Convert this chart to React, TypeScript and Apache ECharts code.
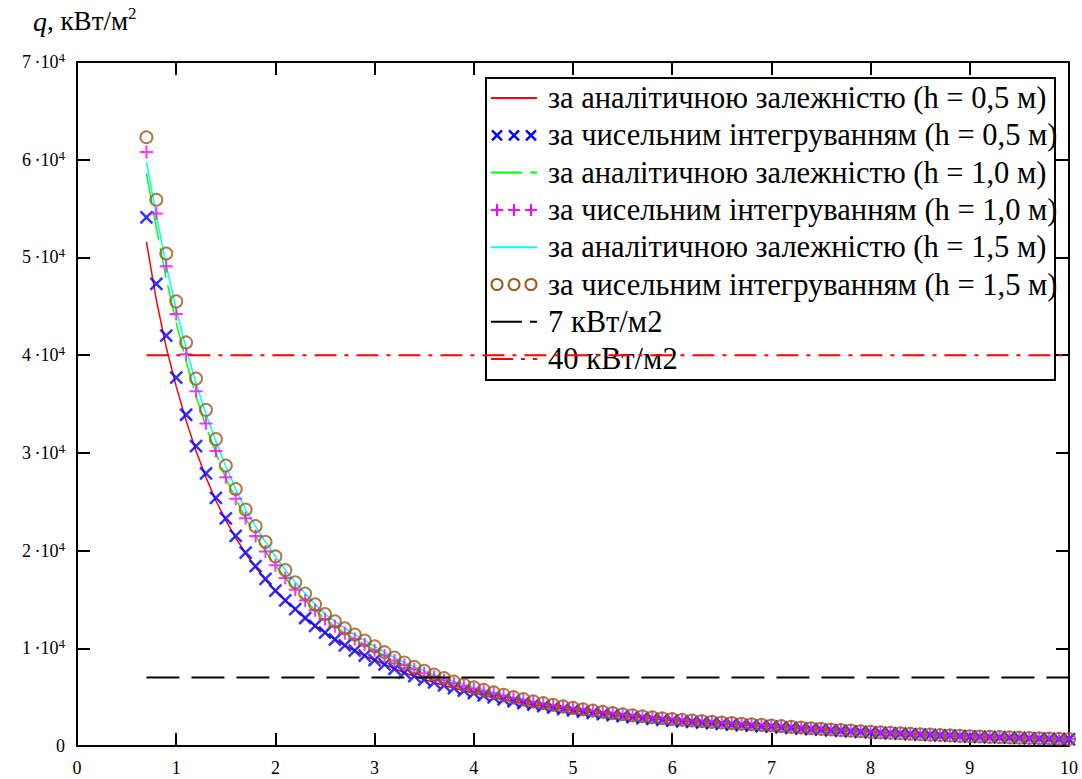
import React, { useEffect, useRef } from "react";
import * as echarts from "echarts";

// distance, m
const xs = [
  0.7, 0.8, 0.9, 1.0, 1.1, 1.2, 1.3, 1.4, 1.5, 1.6,
  1.7, 1.8, 1.9, 2.0, 2.1, 2.2, 2.3, 2.4, 2.5, 2.6,
  2.7, 2.8, 2.9, 3.0, 3.1, 3.2, 3.3, 3.4, 3.5, 3.6,
  3.7, 3.8, 3.9, 4.0, 4.1, 4.2, 4.3, 4.4, 4.5, 4.6,
  4.7, 4.8, 4.9, 5.0, 5.1, 5.2, 5.3, 5.4, 5.5, 5.6,
  5.7, 5.8, 5.9, 6.0, 6.1, 6.2, 6.3, 6.4, 6.5, 6.6,
  6.7, 6.8, 6.9, 7.0, 7.1, 7.2, 7.3, 7.4, 7.5, 7.6,
  7.7, 7.8, 7.9, 8.0, 8.1, 8.2, 8.3, 8.4, 8.5, 8.6,
  8.7, 8.8, 8.9, 9.0, 9.1, 9.2, 9.3, 9.4, 9.5, 9.6,
  9.7, 9.8, 9.9, 10.0,
];

// numerical integration, h = 0.5 m
const qNum05 = [
  54100, 47300, 42000, 37700, 33900, 30700, 27900, 25400, 23300, 21500,
  19800, 18400, 17100, 15900, 14900, 14000, 13100, 12300, 11600, 10900,
  10300, 9750, 9250, 8800, 8350, 7900, 7500, 7150, 6800, 6500,
  6200, 5920, 5660, 5420, 5190, 4970, 4770, 4580, 4400, 4230,
  4070, 3920, 3780, 3640, 3510, 3390, 3270, 3160, 3050, 2950,
  2860, 2770, 2680, 2600, 2530, 2460, 2390, 2330, 2260, 2200,
  2140, 2090, 2030, 1980, 1910, 1850, 1790, 1730, 1670, 1610,
  1560, 1500, 1450, 1400, 1350, 1300, 1260, 1210, 1170, 1130,
  1090, 1050, 1010, 970, 940, 910, 880, 850, 820, 790,
  765, 740, 715, 690,
];

// numerical integration, h = 1.0 m
const qNum10 = [
  60800, 54500, 49100, 44200, 40100, 36300, 33000, 30200, 27500, 25300,
  23300, 21500, 19900, 18500, 17200, 16000, 14900, 13900, 13000, 12250,
  11550, 10950, 10400, 9800, 9250, 8750, 8280, 7850, 7450, 7080,
  6740, 6420, 6130, 5850, 5600, 5370, 5130, 4910, 4710, 4500,
  4330, 4160, 4000, 3850, 3710, 3590, 3460, 3340, 3220, 3110,
  3010, 2910, 2820, 2730, 2660, 2590, 2520, 2450, 2380, 2320,
  2260, 2200, 2140, 2080, 2010, 1940, 1870, 1800, 1740, 1680,
  1620, 1560, 1500, 1440, 1390, 1340, 1290, 1240, 1190, 1150,
  1110, 1070, 1030, 990, 960, 930, 900, 870, 840, 810,
  785, 760, 735, 710,
];

// numerical integration, h = 1.5 m
const qNum15 = [
  62300, 55900, 50400, 45500, 41300, 37600, 34400, 31400, 28700, 26300,
  24200, 22500, 20900, 19400, 18000, 16750, 15600, 14500, 13500, 12750,
  12050, 11400, 10800, 10200, 9600, 9050, 8550, 8100, 7700, 7300,
  6950, 6600, 6300, 6000, 5750, 5500, 5250, 5000, 4800, 4580,
  4400, 4220, 4060, 3900, 3760, 3630, 3500, 3370, 3250, 3140,
  3040, 2940, 2840, 2750, 2680, 2610, 2540, 2470, 2400, 2340,
  2280, 2220, 2160, 2100, 2030, 1960, 1890, 1820, 1750, 1690,
  1630, 1570, 1510, 1450, 1400, 1350, 1300, 1250, 1200, 1160,
  1120, 1080, 1040, 1000, 970, 940, 910, 880, 850, 820,
  790, 770, 740, 720,
];

// analytical curves: first points differ, afterwards they coincide with the numerical ones
const qAn05Head = [51600, 45600, 40800, 36800, 33300, 30200, 27500, 25100, 23100, 21300, 19700, 18300, 17000, 15850];
const qAn10Head = [58600, 53000, 47800, 43300, 39400, 35800, 32700, 30000, 27400];
const qAn15Head = [59800, 54300, 49200, 44700, 40700, 37100, 34000, 31200, 28600];

const limitX = [0.7, 10];
const limit7 = 7000;
const limit40 = 40000;

const xTicks = { min: 0, max: 10, interval: 1 };
const yTicks = { min: 0, max: 70000, interval: 10000 };

const legendLabels = [
  "за аналітичною залежністю (h = 0,5 м)",
  "за чисельним інтегруванням (h = 0,5 м)",
  "за аналітичною залежністю (h = 1,0 м)",
  "за чисельним інтегруванням (h = 1,0 м)",
  "за аналітичною залежністю (h = 1,5 м)",
  "за чисельним інтегруванням (h = 1,5 м)",
  "7 кВт/м2",
  "40 кВт/м2",
];

const RED = "#ff0000";
const BLUE = "#0000ff";
const GREEN = "#00ff00";
const MAGENTA = "#ff00ff";
const CYAN = "#00ffff";
const BROWN = "#9a5a1e";
const SERIF = "'Liberation Serif', 'Times New Roman', 'DejaVu Serif', serif";

export default function App() {
  const ref = useRef<HTMLDivElement>(null);
  useEffect(() => {
    document.body.style.margin = "0";
    const chart = echarts.init(ref.current!, null, { renderer: "svg" });
    const pair = (ys: number[]) => xs.map((x, i) => [x, ys[i]]);
    const qAn05 = qAn05Head.concat(qNum05.slice(qAn05Head.length));
    const qAn10 = qAn10Head.concat(qNum10.slice(qAn10Head.length));
    const qAn15 = qAn15Head.concat(qNum15.slice(qAn15Head.length));

    const lineSeries = (name: string, ys: number[], color: string, type: any, width = 1.5) => ({
      name,
      type: "line",
      data: pair(ys),
      showSymbol: false,
      symbol: "none",
      lineStyle: { color, width, type },
      z: 2,
    });
    const markSeries = (name: string, ys: number[], symbol: string, color: string, bw: number, size: number) => ({
      name,
      type: "scatter",
      data: pair(ys),
      symbol,
      symbolSize: size,
      itemStyle: { color: "rgba(0,0,0,0)", borderColor: color, borderWidth: bw },
      z: 3,
    });

    // legend graphic
    const lx = 486, ly = 78, lw = 569, lh = 302;
    const rowY = (i: number) => 98 + i * 37.3;
    const children: any[] = [
      { type: "rect", shape: { x: lx, y: ly, width: lw, height: lh }, style: { fill: "none", stroke: "#000", lineWidth: 2 } },
    ];
    const sx0 = 491, sx1 = 537;
    const sampleLine = (i: number, color: string, dash: any) =>
      children.push({ type: "line", shape: { x1: sx0, y1: rowY(i), x2: sx1, y2: rowY(i) }, style: { stroke: color, lineWidth: 2, lineDash: dash } });
    sampleLine(0, RED, null);
    sampleLine(2, GREEN, [31, 8]);
    sampleLine(4, CYAN, null);
    sampleLine(6, "#000", [31, 8]);
    sampleLine(7, RED, [22, 8, 4, 8]);
    [497, 514, 531].forEach((cx) => {
      const c1 = rowY(1);
      children.push({ type: "line", shape: { x1: cx - 5, y1: c1 - 5, x2: cx + 5, y2: c1 + 5 }, style: { stroke: BLUE, lineWidth: 2.5 } });
      children.push({ type: "line", shape: { x1: cx + 5, y1: c1 - 5, x2: cx - 5, y2: c1 + 5 }, style: { stroke: BLUE, lineWidth: 2.5 } });
      const c3 = rowY(3);
      children.push({ type: "line", shape: { x1: cx - 6, y1: c3, x2: cx + 6, y2: c3 }, style: { stroke: MAGENTA, lineWidth: 2 } });
      children.push({ type: "line", shape: { x1: cx, y1: c3 - 6, x2: cx, y2: c3 + 6 }, style: { stroke: MAGENTA, lineWidth: 2 } });
      children.push({ type: "circle", shape: { cx, cy: rowY(5), r: 5.5 }, style: { fill: "none", stroke: BROWN, lineWidth: 2 } });
    });
    legendLabels.forEach((t, i) =>
      children.push({
        type: "text",
        style: { text: t, x: 548, y: rowY(i), fontFamily: SERIF, fontSize: 30.5, fill: "#000", verticalAlign: "middle", align: "left" },
      })
    );

    const option: any = {
      animation: false,
      backgroundColor: "#fff",
      grid: { left: 77, right: 13, top: 62, bottom: 33, show: false },
      xAxis: [
        {
          type: "value", ...xTicks, position: "bottom",
          axisLine: { show: true, lineStyle: { color: "#000", width: 2 } },
          axisTick: { show: true, inside: true, length: 13, lineStyle: { color: "#000", width: 2 } },
          axisLabel: { color: "#000", fontFamily: SERIF, fontSize: 18, margin: 13 },
          splitLine: { show: false },
        },
        {
          type: "value", ...xTicks, position: "top",
          axisLine: { show: true, onZero: false, lineStyle: { color: "#000", width: 2 } },
          axisTick: { show: true, inside: true, length: 13, lineStyle: { color: "#000", width: 2 } },
          axisLabel: { show: false },
          splitLine: { show: false },
        },
      ],
      yAxis: [
        {
          type: "value", ...yTicks, position: "left",
          axisLine: { show: true, onZero: false, lineStyle: { color: "#000", width: 2 } },
          axisTick: { show: true, inside: true, length: 13, lineStyle: { color: "#000", width: 2 } },
          axisLabel: {
            color: "#000",
            margin: 12,
            formatter: (v: number) => (v === 0 ? "{n|0}" : `{n|${v / 10000}\u2009·10}{s|4}`),
            rich: {
              n: { fontFamily: SERIF, fontSize: 18, lineHeight: 22, color: "#000" },
              s: { fontFamily: SERIF, fontSize: 13, lineHeight: 13, verticalAlign: "top", color: "#000" },
            },
          },
          splitLine: { show: false },
        },
        {
          type: "value", ...yTicks, position: "right",
          axisLine: { show: true, onZero: false, lineStyle: { color: "#000", width: 2 } },
          axisTick: { show: true, inside: true, length: 13, lineStyle: { color: "#000", width: 2 } },
          axisLabel: { show: false },
          splitLine: { show: false },
        },
      ],
      series: [
        lineSeries("an05", qAn05, RED, "solid"),
        markSeries("num05", qNum05, "path://M0,0L10,10M10,0L0,10", BLUE, 2.5, 12),
        lineSeries("an10", qAn10, GREEN, [30, 8]),
        markSeries("num10", qNum10, "path://M5,0L5,10M0,5L10,5", MAGENTA, 2, 13),
        lineSeries("an15", qAn15, CYAN, "solid"),
        markSeries("num15", qNum15, "circle", BROWN, 2, 12),
        {
          name: "7", type: "line", showSymbol: false, symbol: "none",
          data: limitX.map((x) => [x, limit7]),
          lineStyle: { color: "#000", width: 2, type: [33, 12] }, z: 4,
        },
        {
          name: "40", type: "line", showSymbol: false, symbol: "none",
          data: limitX.map((x) => [x, limit40]),
          lineStyle: { color: RED, width: 2, type: [22, 8, 4, 8] }, z: 4,
        },
      ],
      graphic: [
        {
          type: "text",
          left: 33,
          top: 5,
          style: {
            text: "{i|q}{n|, кВт/м}{s|2}",
            rich: {
              i: { fontFamily: SERIF, fontStyle: "italic", fontSize: 28, lineHeight: 32, fill: "#000" },
              n: { fontFamily: SERIF, fontSize: 27, lineHeight: 32, fill: "#000" },
              s: { fontFamily: SERIF, fontSize: 17, lineHeight: 17, verticalAlign: "top", fill: "#000" },
            },
          },
        },
        { type: "group", children, z: 10 },
      ],
    };
    chart.setOption(option);
    return () => chart.dispose();
  }, []);
  return <div ref={ref} style={{ position: "fixed", left: 0, top: 0, width: 1082, height: 779 }} />;
}
